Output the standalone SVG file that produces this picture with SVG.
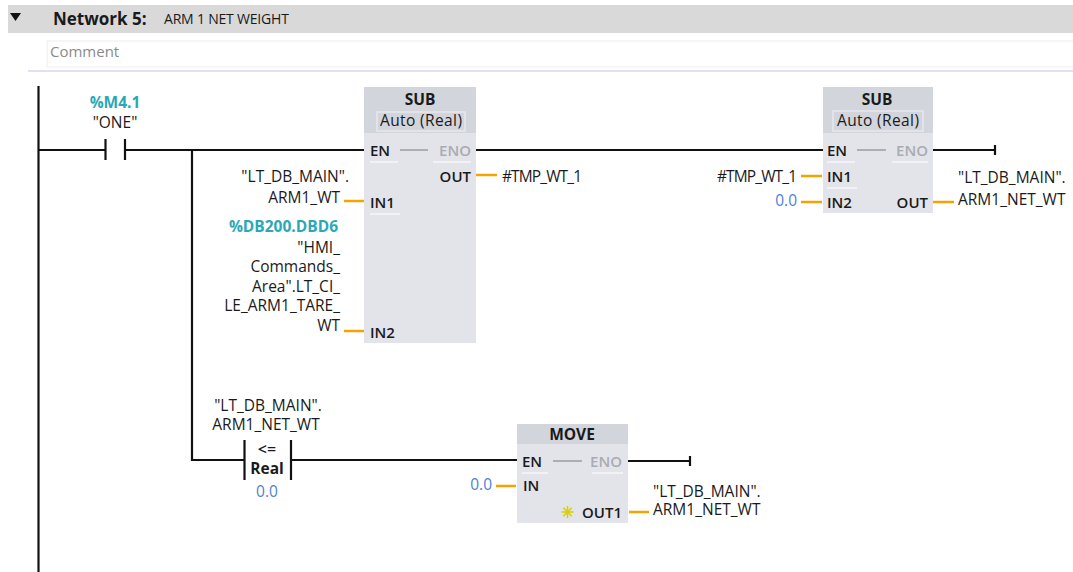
<svg xmlns="http://www.w3.org/2000/svg" width="1073" height="572" viewBox="0 0 1073 572">
<style>
text{font-family:"Open Sans","Noto Sans","Liberation Sans",sans-serif;font-size:15.5px;fill:#1a1a1a}
.b{font-weight:700}
.pin{font-size:15px;font-weight:600}
.eno{fill:#a9abb2;font-weight:600;font-size:15px}
.teal{fill:#2aa8b6;font-weight:700}
.blue{fill:#4f80d8}
.r{text-anchor:end}
.c{text-anchor:middle}
.wire{stroke:#111;stroke-width:2.2;fill:none}
.or{stroke:#f5a300;stroke-width:2.5;fill:none}
.box{fill:#e3e4ea}
.hdr{fill:#d3d5dc}
.auto{fill:#d3d5dc;stroke:#e7e8ed;stroke-width:1.5}
.ul{stroke:#f7f7fa;stroke-width:1.5}
.gl{stroke:#9a9ca3;stroke-width:1.5}
</style>
<rect width="1073" height="572" fill="#fff"/>
<g id="header">
<rect x="8" y="5" width="1065" height="28" fill="#d9d9d9"/>
<polygon points="10,13 21,13 15.5,21" fill="#111"/>
<text x="53" y="25" class="b" style="font-size:17px">Network 5:</text>
<text x="164" y="24" style="font-size:14px;letter-spacing:-0.2px">ARM 1 NET WEIGHT</text>
<rect x="47" y="41" width="1030" height="26" fill="#fff" stroke="#eeeeee" stroke-width="1"/>
<text x="50" y="57" style="font-size:15px;fill:#8a8a8a">Comment</text>
<line x1="28" y1="71" x2="1073" y2="71" stroke="#d8d5ee" stroke-width="1.5"/>
</g>
<g id="connectors">
<line class="wire" x1="38.5" y1="86" x2="38.5" y2="572"/>
<polyline class="wire" points="38,150 105,150"/>
<polyline class="wire" points="125,150 366,150"/>
<polyline class="wire" points="192,150 192,460 244,460"/>
<polyline class="wire" points="291,460 518,460"/>
<polyline class="wire" points="476,150 823,150"/>
<polyline class="wire" points="933,150 995,150"/>
<line class="wire" x1="995" y1="145" x2="995" y2="155"/>
<polyline class="wire" points="628,461 690,461"/>
<line class="wire" x1="690" y1="456" x2="690" y2="466"/>
<line class="or" x1="476" y1="175" x2="497" y2="175"/>
<line class="or" x1="344" y1="201" x2="364" y2="201"/>
<line class="or" x1="344" y1="331" x2="364" y2="331"/>
<line class="or" x1="801" y1="176" x2="822" y2="176"/>
<line class="or" x1="801" y1="202" x2="822" y2="202"/>
<line class="or" x1="933" y1="202" x2="954" y2="202"/>
<line class="or" x1="496" y1="486" x2="516" y2="486"/>
<line class="or" x1="629" y1="512" x2="649" y2="512"/>
</g>
<g id="contact_M4_1">
<line class="wire" x1="105.5" y1="139" x2="105.5" y2="160"/>
<line class="wire" x1="125" y1="139" x2="125" y2="160"/>
<text x="115" y="108" class="teal c">%M4.1</text>
<text x="115" y="128" class="c">"ONE"</text>
</g>
<g id="sub1">
<rect class="box" x="364" y="87" width="112" height="256"/>
<rect class="hdr" x="364" y="87" width="112" height="46"/>
<rect class="auto" x="377" y="112" width="88" height="19"/>
<text x="420" y="105" class="b c">SUB</text>
<text x="421" y="126" class="c" textLength="82" style="font-weight:500">Auto (Real)</text>
<text x="370" y="156" class="pin">EN</text>
<line class="gl" x1="400" y1="150" x2="428" y2="150"/>
<text x="471" y="156" class="eno r">ENO</text>
<line class="ul" x1="370" y1="162" x2="398" y2="162"/>
<line class="ul" x1="433" y1="162" x2="471" y2="162"/>
<text x="471" y="182" class="pin r">OUT</text>
<text x="370" y="208" class="pin">IN1</text>
<line class="ul" x1="370" y1="214" x2="400" y2="214"/>
<text x="370" y="338" class="pin">IN2</text>
<text x="502" y="182" textLength="80">#TMP_WT_1</text>
<text x="349" y="182" class="r">"LT_DB_MAIN".</text>
<text x="340" y="203" class="r">ARM1_WT</text>
<text x="338" y="232" class="teal r">%DB200.DBD6</text>
<text x="340" y="253" class="r">"HMI_</text>
<text x="340" y="272" class="r">Commands_</text>
<text x="340" y="292" class="r">Area".LT_CI_</text>
<text x="340" y="311" class="r">LE_ARM1_TARE_</text>
<text x="340" y="331" class="r">WT</text>
</g>
<g id="sub2">
<rect class="box" x="823" y="87" width="110" height="126"/>
<rect class="hdr" x="823" y="87" width="110" height="46"/>
<rect class="auto" x="833" y="111" width="90" height="20"/>
<text x="877" y="105" class="b c">SUB</text>
<text x="878" y="126" class="c" textLength="82" style="font-weight:500">Auto (Real)</text>
<text x="827" y="156" class="pin">EN</text>
<line class="gl" x1="857" y1="150" x2="886" y2="150"/>
<text x="928" y="156" class="eno r">ENO</text>
<line class="ul" x1="827" y1="162" x2="855" y2="162"/>
<line class="ul" x1="892" y1="162" x2="928" y2="162"/>
<text x="827" y="182" class="pin">IN1</text>
<line class="ul" x1="827" y1="188" x2="857" y2="188"/>
<text x="827" y="208" class="pin">IN2</text>
<text x="928" y="208" class="pin r">OUT</text>
<text x="797" y="182" class="r" textLength="80">#TMP_WT_1</text>
<text x="797" y="206" class="blue r">0.0</text>
<text x="958" y="183">"LT_DB_MAIN".</text>
<text x="958" y="205">ARM1_NET_WT</text>
</g>
<g id="compare_le">
<line class="wire" x1="244.5" y1="440" x2="244.5" y2="480"/>
<line class="wire" x1="291" y1="440" x2="291" y2="480"/>
<text x="267" y="455" class="c" style="font-size:16px;font-weight:600">&lt;=</text>
<text x="267" y="474" class="b c">Real</text>
<text x="268" y="411" class="c">"LT_DB_MAIN".</text>
<text x="266" y="430" class="c">ARM1_NET_WT</text>
<text x="267" y="497" class="blue c">0.0</text>
</g>
<g id="move">
<rect class="box" x="517" y="424" width="111" height="99"/>
<rect class="hdr" x="517" y="424" width="111" height="20"/>
<text x="572" y="440" class="b c">MOVE</text>
<text x="522" y="467" class="pin">EN</text>
<line class="gl" x1="553" y1="461" x2="582" y2="461"/>
<text x="622" y="467" class="eno r">ENO</text>
<line class="ul" x1="522" y1="473" x2="548" y2="473"/>
<line class="ul" x1="592" y1="473" x2="623" y2="473"/>
<text x="523" y="491" class="pin">IN</text>
<text x="622" y="518" class="pin r">OUT1</text>
<g stroke="#d8d000" stroke-width="1.6">
<line x1="567.5" y1="506" x2="567.5" y2="518"/>
<line x1="561.5" y1="512" x2="573.5" y2="512"/>
<line x1="563.3" y1="507.8" x2="571.7" y2="516.2"/>
<line x1="563.3" y1="516.2" x2="571.7" y2="507.8"/>
</g>
<text x="492" y="490" class="blue r">0.0</text>
<text x="653" y="497">"LT_DB_MAIN".</text>
<text x="653" y="515">ARM1_NET_WT</text>
</g>
</svg>
